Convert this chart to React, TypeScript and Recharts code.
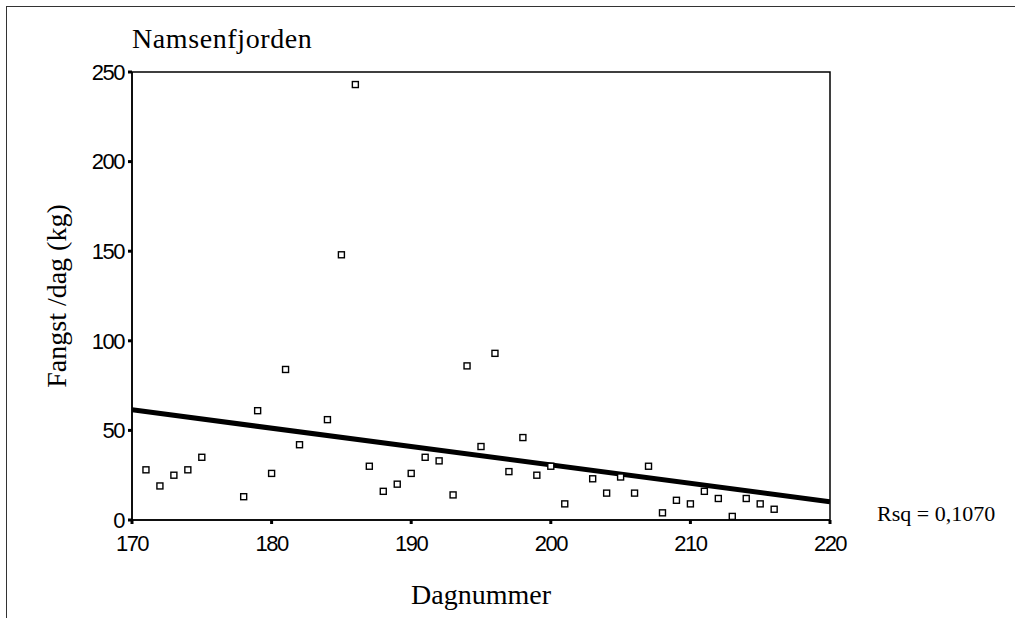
import React from 'react';
import { ScatterChart, Scatter, XAxis, YAxis, ReferenceArea } from 'recharts';

// Namsenfjorden: catch per day vs day number
const dayNumbers = [
  171, 172, 173, 174, 175, 178, 179, 180, 181, 182, 184, 185, 186, 187, 188, 189, 190, 191, 192, 193, 194,
  195, 196, 197, 198, 199, 200, 201, 203, 204, 205, 206, 207, 208, 209, 210, 211, 212, 213, 214, 215, 216,
];
const catchKg = [
  28, 19, 25, 28, 35, 13, 61, 26, 84, 42, 56, 148, 243, 30, 16, 20, 26, 35, 33, 14, 86,
  41, 93, 27, 46, 25, 30, 9, 23, 15, 24, 15, 30, 4, 11, 9, 16, 12, 2, 12, 9, 6,
];
// linear fit, read at both ends of the axis
const fitDays = [170, 220];
const fitKg = [61.5, 10.2];

const xTicks = [170, 180, 190, 200, 210, 220];
const yTicks = [0, 50, 100, 150, 200, 250];

const points = dayNumbers.map((day, i) => ({ day, kg: catchKg[i] }));
const fitLine = fitDays.map((day, i) => ({ day, kg: fitKg[i] }));

const serif = '"Liberation Serif", "Times New Roman", serif';
const sans = '"Liberation Sans", Arial, sans-serif';

const SquareMarker = (props: any) => {
  const { cx, cy } = props;
  if (cx == null || cy == null) return <g />;
  return <rect x={cx - 3} y={cy - 3} width={6} height={6} fill="#fff" stroke="#000" strokeWidth={1.4} />;
};

const tickStyle = { fontSize: 22, fill: '#000', fontFamily: sans, letterSpacing: -1.5 };

const App: React.FC = () => {
  return (
    <div style={{ position: 'absolute', left: 0, top: 0, width: 1015, height: 618, background: '#fff' }}>
      <div
        style={{
          position: 'absolute', left: 6, top: 6, width: 1009, height: 612,
          borderLeft: '1px solid #333', borderTop: '1px solid #333',
        }}
      />
      <div
        style={{
          position: 'absolute', left: 132, top: 25, fontFamily: serif, fontSize: 28,
          letterSpacing: 0.6, lineHeight: 1, color: '#000', whiteSpace: 'nowrap',
        }}
      >
        Namsenfjorden
      </div>
      <div
        style={{
          position: 'absolute', left: 877, top: 503, fontFamily: serif, fontSize: 22,
          lineHeight: 1, color: '#000', whiteSpace: 'nowrap',
        }}
      >
        Rsq = 0,1070
      </div>
      <ScatterChart
        width={1015}
        height={618}
        margin={{ top: 72, right: 185, bottom: 0, left: 0 }}
        style={{ position: 'absolute', left: 0, top: 0 }}
      >
        <ReferenceArea x1={170} x2={220} y1={0} y2={250} fill="none" stroke="#000" strokeWidth={1.5} />
        <XAxis
          dataKey="day"
          type="number"
          domain={[170, 220]}
          ticks={xTicks}
          height={98}
          tick={tickStyle}
          tickSize={4}
          tickMargin={11}
          axisLine={{ stroke: '#000', strokeWidth: 1.5 }}
          tickLine={{ stroke: '#000', strokeWidth: 3 }}
          allowDataOverflow
          label={{
            value: 'Dagnummer', position: 'insideBottom', offset: 14,
            style: { fontFamily: serif, fontSize: 28, fill: '#000' },
          }}
        />
        <YAxis
          dataKey="kg"
          type="number"
          domain={[0, 250]}
          ticks={yTicks}
          width={132}
          tick={tickStyle}
          tickSize={4}
          tickMargin={4}
          axisLine={{ stroke: '#000', strokeWidth: 1.5 }}
          tickLine={{ stroke: '#000', strokeWidth: 3 }}
          allowDataOverflow
          label={{
            value: 'Fangst /dag (kg)', angle: -90, position: 'insideLeft', offset: 56,
            style: { fontFamily: serif, fontSize: 28, fill: '#000', textAnchor: 'middle' },
          }}
        />
        <Scatter
          data={fitLine}
          line={{ stroke: '#000', strokeWidth: 5 }}
          shape={() => <g />}
          isAnimationActive={false}
        />
        <Scatter data={points} shape={<SquareMarker />} isAnimationActive={false} />
      </ScatterChart>
    </div>
  );
};

export default App;
